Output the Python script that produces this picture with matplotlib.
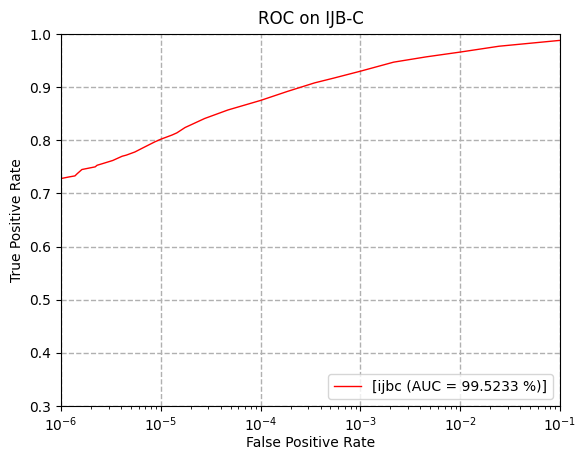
import matplotlib
matplotlib.use("Agg")
import matplotlib.pyplot as plt

# ROC curve samples (false positive rate, true positive rate)
fpr = [1.0e-6, 1.2e-6, 1.38e-6, 1.45e-6, 1.62e-6, 2.2e-6, 2.3e-6, 2.6e-6,
       3.3e-6, 4.1e-6, 4.5e-6, 5.5e-6, 6.5e-6, 8.7e-6, 1.0e-5, 1.3e-5,
       1.45e-5, 1.75e-5, 2.0e-5, 2.75e-5, 4.7e-5, 1.0e-4, 1.86e-4,
       3.47e-4, 5.4e-4, 1.0e-3, 2.15e-3, 4.57e-3, 1.0e-2, 2.45e-2, 1.0e-1]
tpr = [0.728, 0.731, 0.733, 0.737, 0.745, 0.750, 0.753, 0.756,
       0.762, 0.770, 0.772, 0.778, 0.785, 0.797, 0.802, 0.810,
       0.814, 0.824, 0.829, 0.841, 0.857, 0.875, 0.892,
       0.908, 0.917, 0.930, 0.947, 0.957, 0.966, 0.977, 0.988]
label = "[ijbc (AUC = 99.5233 %)]"

fig = plt.figure(figsize=(5.75, 4.5), dpi=100)
ax = fig.add_axes([61 / 575, 1 - 406 / 450, (560 - 61) / 575, (406 - 34) / 450])
ax.plot(fpr, tpr, color="red", lw=1, label=label)
ax.set_xscale("log")
ax.set_xlim(1e-6, 1e-1)
ax.set_ylim(0.3, 1.0)
ax.grid(linestyle="--", linewidth=1)
ax.set_xlabel("False Positive Rate", labelpad=1)
ax.set_ylabel("True Positive Rate")
ax.set_title("ROC on IJB-C", pad=7)
ax.legend(loc="lower right")
fig.savefig("out.png", dpi=100)
